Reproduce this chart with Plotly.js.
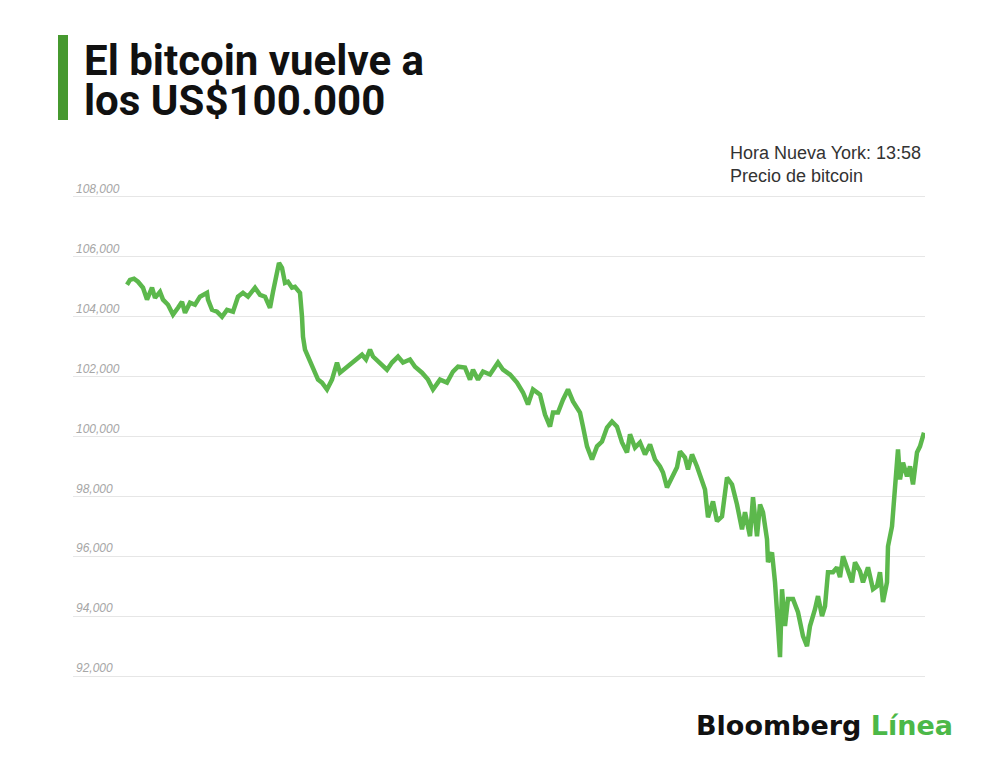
<!DOCTYPE html>
<html>
<head>
<meta charset="utf-8">
<script src="https://cdn.plot.ly/plotly-3.0.1.min.js"></script>
<style>
  html, body { margin: 0; padding: 0; background: #ffffff; }
  #chart { width: 1000px; height: 766px; }
</style>
</head>
<body>
<div id="chart"></div>
<script>
// Hours since start of the window (hidden x axis)
const hours = [
  0.06, 0.15, 0.27, 0.39, 0.54, 0.66, 0.81, 0.90, 1.05, 1.14,
  1.29, 1.44, 1.59, 1.71, 1.80, 1.95, 2.10, 2.25, 2.46, 2.49,
  2.61, 2.76, 2.91, 3.06, 3.24, 3.39, 3.54, 3.69, 3.90, 4.05,
  4.20, 4.35, 4.44, 4.56, 4.62, 4.71, 4.80, 4.89, 5.01, 5.10,
  5.25, 5.31, 5.34, 5.40, 5.49, 5.64, 5.79, 5.91, 6.06, 6.21,
  6.36, 6.45, 6.66, 6.84, 7.11, 7.23, 7.35, 7.44, 7.65, 7.86,
  8.01, 8.19, 8.34, 8.55, 8.70, 8.91, 9.09, 9.24, 9.45, 9.66,
  9.84, 9.99, 10.20, 10.35, 10.44, 10.59, 10.74, 10.95, 11.19, 11.34,
  11.55, 11.76, 11.94, 12.09, 12.24, 12.45, 12.60, 12.75, 12.84, 12.99,
  13.14, 13.29, 13.44, 13.65, 13.74, 13.86, 14.01, 14.16, 14.31, 14.46,
  14.61, 14.76, 14.91, 15.06, 15.15, 15.30, 15.45, 15.60, 15.75, 15.90,
  16.05, 16.14, 16.26, 16.41, 16.56, 16.65, 16.80, 16.89, 17.01, 17.16,
  17.31, 17.40, 17.49, 17.64, 17.76, 17.91, 18.06, 18.21, 18.36, 18.51,
  18.60, 18.75, 18.84, 18.96, 19.05, 19.14, 19.26, 19.29, 19.41, 19.50,
  19.59, 19.65, 19.71, 19.80, 19.89, 20.04, 20.19, 20.34, 20.46, 20.55,
  20.70, 20.79, 20.91, 21.00, 21.09, 21.24, 21.36, 21.45, 21.54, 21.69,
  21.81, 21.90, 22.05, 22.14, 22.29, 22.44, 22.56, 22.65, 22.74, 22.86,
  22.89, 23.01, 23.10, 23.19, 23.25, 23.34, 23.46, 23.55, 23.64, 23.76,
  23.85, 23.97
];

// Bitcoin price (US$)
const prices = [
  105070, 105230, 105270, 105170, 104970, 104570, 104970, 104630, 104830, 104570,
  104400, 104070, 104300, 104500, 104130, 104470, 104400, 104670, 104800, 104570,
  104230, 104170, 104000, 104230, 104170, 104670, 104800, 104670, 104970, 104730,
  104670, 104300, 104830, 105470, 105800, 105630, 105130, 105170, 104970, 105000,
  104800, 104000, 103330, 102900, 102670, 102330, 101900, 101800, 101570, 101900,
  102470, 102130, 102330, 102500, 102730, 102570, 102900, 102670, 102470, 102230,
  102470, 102670, 102470, 102570, 102330, 102130, 101900, 101570, 101900, 101800,
  102170, 102330, 102300, 101900, 102230, 101900, 102170, 102070, 102470, 102230,
  102070, 101800, 101470, 101070, 101570, 101400, 100730, 100330, 100800, 100800,
  101230, 101570, 101170, 100800, 100330, 99670, 99230, 99670, 99830, 100300,
  100500, 100330, 99800, 99470, 100070, 99630, 99800, 99400, 99730, 99230,
  99000, 98800, 98300, 98670, 98970, 99500, 99300, 98900, 99400, 99000,
  98470, 98230, 97300, 97830, 97170, 97330, 98630, 98400, 97730, 96900,
  97470, 96670, 97970, 96670, 97730, 97470, 96570, 95800, 96130, 95130,
  93670, 92630, 94900, 93670, 94570, 94570, 94130, 93330, 93000, 93670,
  94230, 94670, 94000, 94330, 95470, 95470, 95630, 95300, 96000, 95470,
  95130, 95800, 95500, 95130, 95630, 94900, 95000, 95470, 94470, 95130,
  96330, 97000, 98330, 99570, 98570, 99130, 98670, 99000, 98400, 99470,
  99670, 100130
];

const yTicks = [92000, 94000, 96000, 98000, 100000, 102000, 104000, 106000, 108000];
const xRange = [-1.56, 24.0];
const yRange = [91500, 108600];

const titleLines = ['El bitcoin vuelve a', 'los US$100.000'];
const subtitleLines = ['Hora Nueva York: 13:58', 'Precio de bitcoin'];
const brandDark = 'Bloomberg';
const brandGreen = 'Línea';

// plot area in pixels
const L = 73, R = 925, T = 179, B = 691;
const W = 1000, H = 766;
const px = x => (x - L) / (R - L);
const py = y => (B - y) / (B - T);

const trace = {
  x: hours,
  y: prices,
  type: 'scatter',
  mode: 'lines',
  line: { color: '#5cb84c', width: 4.5 },
  hoverinfo: 'skip'
};

const layout = {
  width: W,
  height: H,
  paper_bgcolor: '#ffffff',
  plot_bgcolor: '#ffffff',
  showlegend: false,
  margin: { l: L, r: W - R, t: T, b: H - B, pad: 0 },
  xaxis: {
    range: xRange,
    showgrid: false,
    zeroline: false,
    showline: false,
    showticklabels: false,
    ticks: '',
    fixedrange: true
  },
  yaxis: {
    range: yRange,
    tickvals: yTicks,
    tickformat: ',d',
    showgrid: true,
    gridcolor: '#e6e6e6',
    gridwidth: 1,
    zeroline: false,
    showline: false,
    ticks: '',
    ticklabelposition: 'inside',
    ticklabelshift: -8,
    ticklabelstandoff: 0,
    tickfont: { family: 'Liberation Sans, Arial, sans-serif', size: 12, color: '#a6a6a6', style: 'italic' },
    fixedrange: true
  },
  shapes: [
    {
      type: 'rect', xref: 'paper', yref: 'paper',
      x0: px(58), x1: px(68), y0: py(120), y1: py(35),
      fillcolor: '#46992f', line: { width: 0 }, layer: 'above'
    }
  ],
  annotations: [
    {
      text: '<b>' + titleLines[0] + '</b>', xref: 'paper', yref: 'paper',
      x: px(82), y: py(60), xanchor: 'left', yanchor: 'middle', showarrow: false,
      font: { family: 'Roboto, sans-serif', size: 42, color: '#111111' }
    },
    {
      text: '<b>' + titleLines[1] + '</b>', xref: 'paper', yref: 'paper',
      x: px(82), y: py(100), xanchor: 'left', yanchor: 'middle', showarrow: false,
      font: { family: 'Roboto, sans-serif', size: 42, color: '#111111' }
    },
    {
      text: subtitleLines.join('<br>'), xref: 'paper', yref: 'paper',
      x: px(728), y: py(164), xanchor: 'left', yanchor: 'middle', align: 'left', showarrow: false,
      font: { family: 'Liberation Sans, Arial, sans-serif', size: 18, color: '#333333' }
    },
    {
      text: '<b>' + brandDark + ' <span style="color:#4cb848">' + brandGreen + '</span></b>',
      xref: 'paper', yref: 'paper',
      x: px(694), y: py(725), xanchor: 'left', yanchor: 'middle', showarrow: false,
      font: { family: 'DejaVu Sans, sans-serif', size: 27, color: '#111111' }
    }
  ]
};

Plotly.newPlot('chart', [trace], layout, { displayModeBar: false, staticPlot: true });
</script>
</body>
</html>
